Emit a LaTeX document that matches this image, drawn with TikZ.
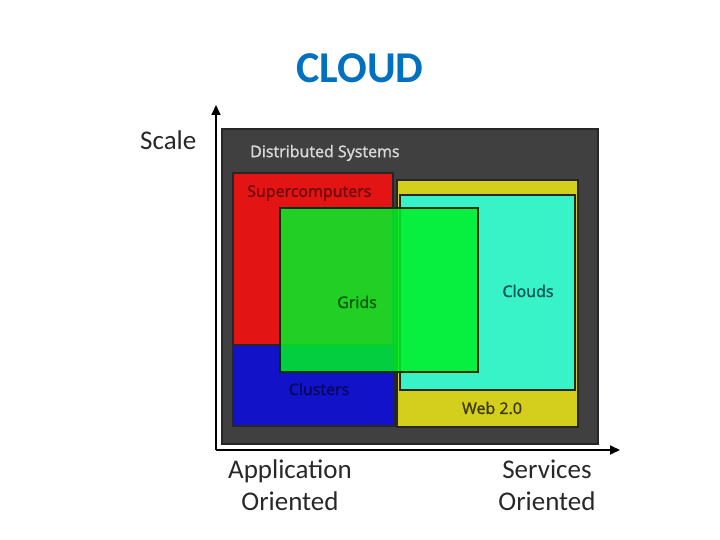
\documentclass[tikz,border=0pt]{standalone}
\usepackage{fontspec}
\setmainfont{Carlito}
\newfontfamily\lblfont[FakeBold=1.5]{Open Sans}
\usetikzlibrary{arrows.meta}
\definecolor{titleblue}{RGB}{0,112,192}
\definecolor{dsgrey}{RGB}{64,64,64}
\definecolor{supred}{RGB}{226,20,20}
\definecolor{clublue}{RGB}{18,18,200}
\definecolor{webyel}{RGB}{212,206,28}
\definecolor{cloudcy}{RGB}{56,242,200}
\definecolor{gridgr}{RGB}{0,240,40}
\definecolor{axisgrey}{RGB}{40,40,40}
\begin{document}
\begin{tikzpicture}[x=1pt,y=-1pt,
  box/.style={anchor=north west,inner sep=0pt,outer sep=0pt,draw=black!85,line width=1.4pt},
  lab/.style={inner sep=0pt,font=\lblfont\fontsize{16}{18}\selectfont},
  axlab/.style={inner sep=0pt,align=center,text=axisgrey,font=\fontsize{27}{32}\selectfont},
  axis/.style={line width=2pt,draw=black,-{Triangle[length=10pt,width=9pt]}}]
\useasboundingbox (0,0) rectangle (720,540);
\node[font=\fontsize{44}{48}\selectfont\bfseries,text=titleblue,inner sep=0pt] (title) at (360,68) {CLOUD};
% boxes
\node[box,fill=dsgrey,minimum width=376pt,minimum height=315pt] (ds) at (222,129) {};
\node[box,fill=supred,minimum width=160pt,minimum height=172pt] (sup) at (233,173) {};
\node[box,fill=clublue,minimum width=162pt,minimum height=81pt] (clu) at (233,345) {};
\node[box,fill=webyel,minimum width=181pt,minimum height=247pt] (web) at (397,180) {};
\node[box,fill=cloudcy,minimum width=175pt,minimum height=195pt] (cld) at (400,195) {};
\node[box,fill=gridgr,fill opacity=0.85,draw=black!80!green,minimum width=198pt,minimum height=164pt] (grd) at (280,208) {};
% labels
\node[lab,anchor=west,text=black!15] (dsl) at (250,153) {Distributed Systems};
\node[lab,anchor=west,text=supred!50!black] (supl) at (247,193) {Supercomputers};
\node[lab,text=green!35!black] (grdl) at (357,302) {Grids};
\node[lab,text=teal!65!black] (cldl) at (528,291) {Clouds};
\node[lab,text=clublue!45!black] (clul) at (319,389) {Clusters};
\node[lab,text=webyel!28!black] (webl) at (492,408) {Web 2.0};
% axes
\coordinate (org) at (216,450);
\coordinate (ytop) at (216,105);
\coordinate (xend) at (620,450);
\draw[axis] (org) -- (ytop);
\draw[axis] (org) -- (xend);
\node[axlab,anchor=west] (scl) at (140,140) {Scale};
\node[axlab] (app) at (290,485) {Application\\Oriented};
\node[axlab] (srv) at (547,485) {Services\\Oriented};
\end{tikzpicture}
\end{document}
